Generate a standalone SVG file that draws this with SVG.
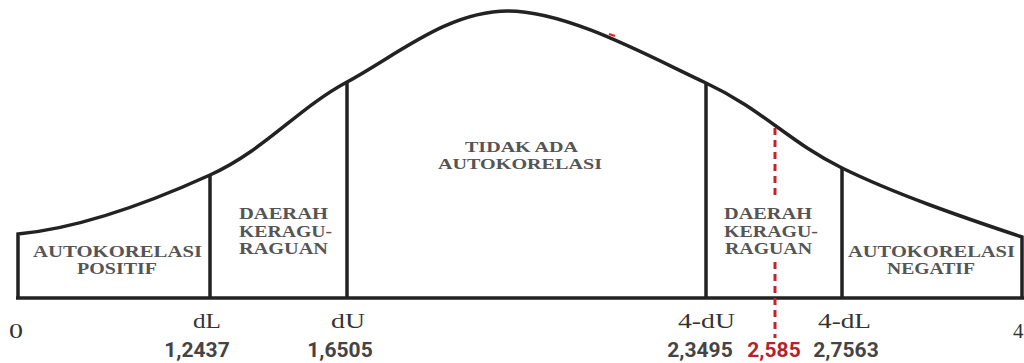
<svg xmlns="http://www.w3.org/2000/svg" width="1024" height="363" viewBox="0 0 1024 363">
<style>
.lbl{font-family:"Liberation Serif",serif;font-weight:bold;font-size:17px;fill:#555}
.mid{font-size:15.5px}
.ax{font-family:"Liberation Serif",serif;font-size:21px;fill:#333}
.num{font-family:Roboto,"Liberation Sans",sans-serif;font-weight:bold;font-size:21px;fill:#444;text-anchor:middle}
.ln{fill:none;stroke:#222;stroke-width:3.5}
.red{stroke:#c0272d;stroke-width:3;stroke-dasharray:7 5}
</style>
<rect width="1024" height="363" fill="#fff"/>
<g id="connectors">
<path class="ln" d="M18,299 L18,234 C82,228 155,200 210,175 C265,150 297,109 347,82 C397,55 448,11 508,11 C568,11 650,57 706,83 C762,109 789,142 842,168 C895,194 962,217 1022,237 L1022,299"/>
<line class="ln" x1="16" y1="298" x2="1024" y2="298" stroke-width="4"/>
<line class="ln" x1="210" y1="175" x2="210" y2="298"/>
<line class="ln" x1="347" y1="82" x2="347" y2="298"/>
<line class="ln" x1="706" y1="83" x2="706" y2="298"/>
<line class="ln" x1="842" y1="168" x2="842" y2="298"/>
<line class="red" x1="775" y1="128" x2="775" y2="198"/>
<line class="red" x1="775" y1="262" x2="775" y2="338"/>
<line x1="609" y1="34" x2="615" y2="36" stroke="#e02020" stroke-width="2"/>
</g>
<g id="autokorelasi-positif">
<text class="lbl" x="33" y="257" textLength="169" lengthAdjust="spacingAndGlyphs">AUTOKORELASI</text>
<text class="lbl" x="77" y="274" textLength="80" lengthAdjust="spacingAndGlyphs">POSITIF</text>
</g>
<g id="daerah-keraguan-kiri">
<text class="lbl" x="239" y="219" textLength="89" lengthAdjust="spacingAndGlyphs">DAERAH</text>
<text class="lbl" x="239" y="237" textLength="93" lengthAdjust="spacingAndGlyphs">KERAGU-</text>
<text class="lbl" x="239" y="254" textLength="89" lengthAdjust="spacingAndGlyphs">RAGUAN</text>
</g>
<g id="tidak-ada-autokorelasi">
<text class="lbl mid" x="465" y="152" textLength="113" lengthAdjust="spacingAndGlyphs">TIDAK ADA</text>
<text class="lbl mid" x="438" y="169" textLength="164" lengthAdjust="spacingAndGlyphs">AUTOKORELASI</text>
</g>
<g id="daerah-keraguan-kanan">
<text class="lbl" x="724" y="219" textLength="88" lengthAdjust="spacingAndGlyphs">DAERAH</text>
<text class="lbl" x="724" y="237" textLength="94" lengthAdjust="spacingAndGlyphs">KERAGU-</text>
<text class="lbl" x="725" y="254" textLength="87" lengthAdjust="spacingAndGlyphs">RAGUAN</text>
</g>
<g id="autokorelasi-negatif">
<text class="lbl" x="848" y="257" textLength="167" lengthAdjust="spacingAndGlyphs">AUTOKORELASI</text>
<text class="lbl" x="887" y="274" textLength="88" lengthAdjust="spacingAndGlyphs">NEGATIF</text>
</g>
<g id="axis-labels">
<text class="ax" x="9" y="338" textLength="14" lengthAdjust="spacingAndGlyphs">0</text>
<text class="ax" x="193" y="328" textLength="28" lengthAdjust="spacingAndGlyphs">dL</text>
<text class="ax" x="331" y="328" textLength="34" lengthAdjust="spacingAndGlyphs">dU</text>
<text class="ax" x="678" y="328" textLength="57" lengthAdjust="spacingAndGlyphs">4-dU</text>
<text class="ax" x="818" y="328" textLength="53" lengthAdjust="spacingAndGlyphs">4-dL</text>
<text class="ax" x="1013" y="338">4</text>
</g>
<g id="values">
<text class="num" x="197" y="357">1,2437</text>
<text class="num" x="340" y="357">1,6505</text>
<text class="num" x="700" y="357">2,3495</text>
<text class="num" x="774" y="357" style="fill:#b5232a">2,585</text>
<text class="num" x="846" y="357">2,7563</text>
</g>
</svg>
